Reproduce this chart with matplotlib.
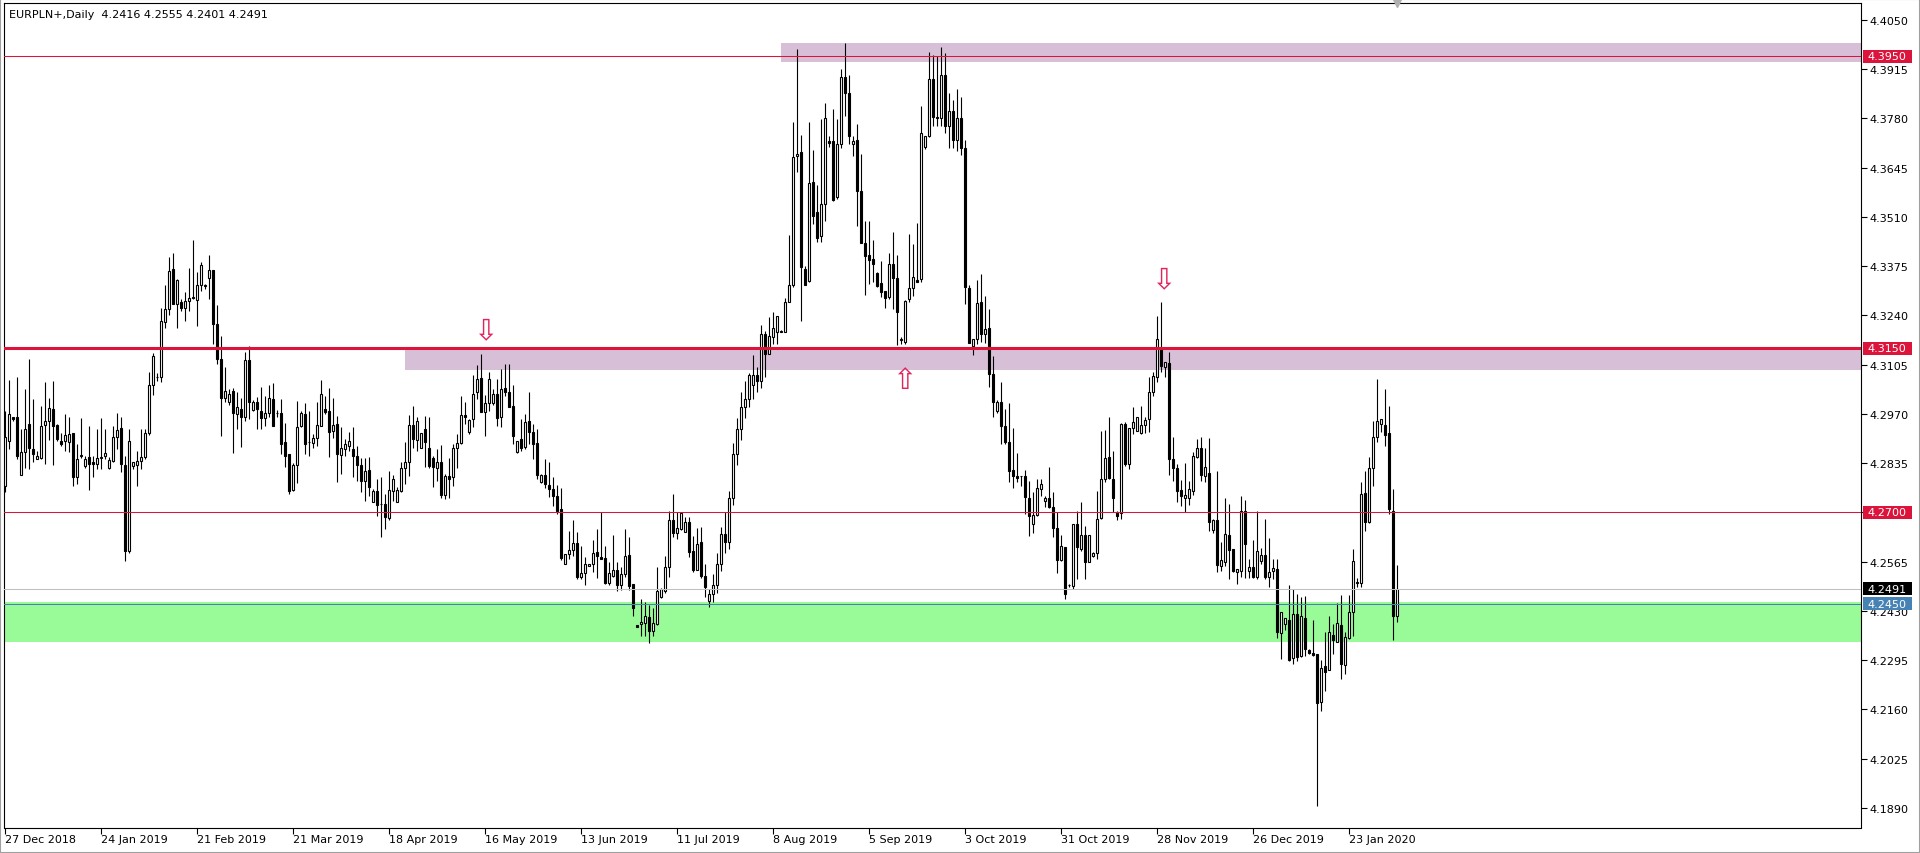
import matplotlib
matplotlib.use("Agg")
import matplotlib.pyplot as plt
from matplotlib.patches import Rectangle

plt.rcParams['font.family'] = ['DejaVu Sans']

# EURPLN+ daily bars (one entry per bar)
OPEN = [
    4.2773, 4.2897, 4.2961, 4.2961, 4.2803, 4.2865, 4.2942, 4.2874, 4.2846, 4.2848,
    4.2939, 4.2951, 4.2983, 4.2940, 4.2896, 4.2896, 4.2894, 4.2919, 4.2796, 4.2855,
    4.2828, 4.2853, 4.2837, 4.2833, 4.2848, 4.2855, 4.2823, 4.2842, 4.2906, 4.2931,
    4.2830, 4.2595, 4.2828, 4.2830, 4.2842, 4.2853, 4.2919, 4.3049, 4.3070, 4.3070,
    4.3221, 4.3258, 4.3367, 4.3271, 4.3278, 4.3260, 4.3280, 4.3288, 4.3283, 4.3323,
    4.3323, 4.3344, 4.3365, 4.3217, 4.3120, 4.3015, 4.3004, 4.3032, 4.2969, 4.2983,
    4.2961, 4.3118, 4.2981, 4.3004, 4.2979, 4.2958, 4.2974, 4.3011, 4.2972, 4.2974,
    4.2894, 4.2860, 4.2762, 4.2831, 4.2936, 4.2970, 4.2892, 4.2890, 4.2903, 4.2938,
    4.2983, 4.2977, 4.2924, 4.2942, 4.2858, 4.2875, 4.2881, 4.2874, 4.2854, 4.2830,
    4.2785, 4.2816, 4.2729, 4.2758, 4.2723, 4.2723, 4.2685, 4.2760, 4.2729, 4.2760,
    4.2821, 4.2837, 4.2940, 4.2899, 4.2876, 4.2930, 4.2876, 4.2848, 4.2821, 4.2837,
    4.2748, 4.2799, 4.2796, 4.2876, 4.2890, 4.2967, 4.2920, 4.2956, 4.3029, 4.3068,
    4.2976, 4.3000, 4.3000, 4.3025, 4.2961, 4.3040, 4.3029, 4.2991, 4.2867, 4.2901,
    4.2879, 4.2951, 4.2920, 4.2890, 4.2783, 4.2803, 4.2775, 4.2764, 4.2746, 4.2710,
    4.2558, 4.2586, 4.2598, 4.2616, 4.2524, 4.2533, 4.2552, 4.2559, 4.2591, 4.2577,
    4.2574, 4.2507, 4.2525, 4.2543, 4.2502, 4.2531, 4.2583, 4.2504, 4.2392, 4.2394,
    4.2398, 4.2413, 4.2376, 4.2394, 4.2467, 4.2486, 4.2550, 4.2678, 4.2644, 4.2655,
    4.2647, 4.2675, 4.2595, 4.2543, 4.2618, 4.2525, 4.2458, 4.2477, 4.2500, 4.2560,
    4.2640, 4.2620, 4.2740, 4.2860, 4.2930, 4.2990, 4.3010, 4.3050, 4.3077, 4.3060,
    4.3189, 4.3134, 4.3180, 4.3194, 4.3196, 4.3194, 4.3276, 4.3324, 4.3676, 4.3687,
    4.3367, 4.3335, 4.3605, 4.3525, 4.3457, 4.3546, 4.3717, 4.3717, 4.3564, 4.3710,
    4.3895, 4.3850, 4.3710, 4.3721, 4.3582, 4.3439, 4.3406, 4.3395, 4.3356, 4.3329,
    4.3308, 4.3290, 4.3381, 4.3342, 4.3174, 4.3168, 4.3285, 4.3315, 4.3336, 4.3340,
    4.3701, 4.3731, 4.3888, 4.3785, 4.3782, 4.3900, 4.3760, 4.3800, 4.3720, 4.3780,
    4.3700, 4.3314, 4.3157, 4.3175, 4.3278, 4.3189, 4.3205, 4.3079, 4.2979, 4.3004,
    4.2936, 4.2894, 4.2817, 4.2801, 4.2799, 4.2799, 4.2741, 4.2668, 4.2693, 4.2764,
    4.2732, 4.2741, 4.2714, 4.2657, 4.2571, 4.2604, 4.2501, 4.2499, 4.2668, 4.2601,
    4.2638, 4.2565, 4.2580, 4.2589, 4.2684, 4.2792, 4.2851, 4.2792, 4.2702, 4.2698,
    4.2943, 4.2833, 4.2931, 4.2924, 4.2918, 4.2940, 4.2956, 4.3031, 4.3071, 4.3148,
    4.3098, 4.3111, 4.2847, 4.2822, 4.2761, 4.2741, 4.2739, 4.2760, 4.2851, 4.2876,
    4.2801, 4.2808, 4.2653, 4.2679, 4.2554, 4.2565, 4.2638, 4.2600, 4.2538, 4.2540,
    4.2703, 4.2540, 4.2550, 4.2522, 4.2568, 4.2583, 4.2522, 4.2539, 4.2546, 4.2369,
    4.2394, 4.2406, 4.2300, 4.2421, 4.2306, 4.2412, 4.2324, 4.2315, 4.2312, 4.2180,
    4.2278, 4.2267, 4.2364, 4.2346, 4.2391, 4.2282, 4.2355, 4.2426, 4.2508, 4.2508,
    4.2753, 4.2673, 4.2821, 4.2906, 4.2942, 4.2940, 4.2918, 4.2705, 4.2416,
]
HIGH = [
    4.2979, 4.3063, 4.2961, 4.3070, 4.2930, 4.3038, 4.3121, 4.3011, 4.2869, 4.2993,
    4.3057, 4.3015, 4.3061, 4.2942, 4.2919, 4.2970, 4.2961, 4.2919, 4.2887, 4.2958,
    4.2855, 4.2938, 4.2855, 4.2929, 4.2958, 4.2930, 4.2851, 4.2938, 4.2972, 4.2961,
    4.2855, 4.2930, 4.2837, 4.2869, 4.2929, 4.2929, 4.3084, 4.3137, 4.3082, 4.3260,
    4.3323, 4.3399, 4.3410, 4.3341, 4.3285, 4.3303, 4.3370, 4.3447, 4.3358, 4.3386,
    4.3326, 4.3406, 4.3365, 4.3269, 4.3184, 4.3098, 4.3038, 4.3041, 4.3029, 4.3015,
    4.3139, 4.3157, 4.3007, 4.3016, 4.3043, 4.3020, 4.3049, 4.3055, 4.2981, 4.3011,
    4.2945, 4.2860, 4.2835, 4.3006, 4.2979, 4.2999, 4.2979, 4.2915, 4.3004, 4.3064,
    4.3018, 4.3040, 4.3013, 4.2965, 4.2933, 4.2901, 4.2920, 4.2933, 4.2881, 4.2848,
    4.2848, 4.2851, 4.2764, 4.2793, 4.2796, 4.2750, 4.2814, 4.2803, 4.2769, 4.2837,
    4.2892, 4.2967, 4.2993, 4.2961, 4.2917, 4.2965, 4.2961, 4.2856, 4.2874, 4.2885,
    4.2805, 4.2848, 4.2888, 4.2915, 4.3018, 4.3004, 4.2956, 4.3077, 4.3104, 4.3134,
    4.3022, 4.3086, 4.3039, 4.3066, 4.3093, 4.3107, 4.3107, 4.3049, 4.2897, 4.2956,
    4.2970, 4.3029, 4.2943, 4.2929, 4.2805, 4.2847, 4.2838, 4.2796, 4.2774, 4.2767,
    4.2586, 4.2650, 4.2680, 4.2647, 4.2609, 4.2577, 4.2559, 4.2625, 4.2655, 4.2700,
    4.2609, 4.2563, 4.2638, 4.2563, 4.2550, 4.2655, 4.2632, 4.2504, 4.2392, 4.2463,
    4.2455, 4.2446, 4.2437, 4.2550, 4.2492, 4.2580, 4.2705, 4.2751, 4.2702, 4.2702,
    4.2687, 4.2687, 4.2636, 4.2657, 4.2659, 4.2559, 4.2490, 4.2530, 4.2590, 4.2660,
    4.2700, 4.2760, 4.2890, 4.2960, 4.3030, 4.3060, 4.3082, 4.3132, 4.3100, 4.3214,
    4.3198, 4.3235, 4.3249, 4.3238, 4.3199, 4.3287, 4.3461, 4.3771, 4.3970, 4.3735,
    4.3376, 4.3771, 4.3694, 4.3598, 4.3779, 4.3823, 4.3731, 4.3806, 4.3779, 4.3916,
    4.3987, 4.3899, 4.3733, 4.3765, 4.3684, 4.3500, 4.3500, 4.3448, 4.3360, 4.3388,
    4.3308, 4.3411, 4.3470, 4.3406, 4.3180, 4.3283, 4.3463, 4.3436, 4.3494, 4.3813,
    4.3731, 4.3961, 4.3954, 4.3952, 4.3975, 4.3960, 4.3850, 4.3830, 4.3860, 4.3840,
    4.3720, 4.3323, 4.3175, 4.3337, 4.3354, 4.3294, 4.3258, 4.3128, 4.3007, 4.3059,
    4.2983, 4.2999, 4.2931, 4.2863, 4.2801, 4.2817, 4.2787, 4.2755, 4.2792, 4.2793,
    4.2746, 4.2826, 4.2757, 4.2700, 4.2638, 4.2604, 4.2504, 4.2668, 4.2705, 4.2730,
    4.2664, 4.2638, 4.2592, 4.2760, 4.2924, 4.2927, 4.2961, 4.2869, 4.2705, 4.2945,
    4.2949, 4.2931, 4.2988, 4.2961, 4.2993, 4.2961, 4.3070, 4.3086, 4.3239, 4.3278,
    4.3113, 4.3139, 4.2906, 4.2833, 4.2789, 4.2835, 4.2787, 4.2865, 4.2901, 4.2906,
    4.2877, 4.2903, 4.2682, 4.2813, 4.2620, 4.2741, 4.2723, 4.2600, 4.2545, 4.2746,
    4.2735, 4.2572, 4.2625, 4.2705, 4.2602, 4.2682, 4.2629, 4.2572, 4.2572, 4.2426,
    4.2410, 4.2501, 4.2490, 4.2476, 4.2467, 4.2472, 4.2327, 4.2406, 4.2312, 4.2296,
    4.2371, 4.2417, 4.2394, 4.2452, 4.2474, 4.2373, 4.2474, 4.2600, 4.2519, 4.2783,
    4.2815, 4.2851, 4.2952, 4.3066, 4.2956, 4.3038, 4.2993, 4.2764, 4.2555,
]
LOW = [
    4.2755, 4.2874, 4.2951, 4.2846, 4.2803, 4.2823, 4.2819, 4.2837, 4.2846, 4.2846,
    4.2833, 4.2898, 4.2830, 4.2897, 4.2883, 4.2869, 4.2865, 4.2773, 4.2778, 4.2850,
    4.2821, 4.2762, 4.2796, 4.2819, 4.2819, 4.2846, 4.2819, 4.2837, 4.2874, 4.2810,
    4.2568, 4.2590, 4.2819, 4.2773, 4.2819, 4.2846, 4.2912, 4.3022, 4.3061, 4.3058,
    4.3207, 4.3241, 4.3271, 4.3206, 4.3253, 4.3226, 4.3251, 4.3285, 4.3212, 4.3308,
    4.3313, 4.3285, 4.3162, 4.3107, 4.2910, 4.3002, 4.2994, 4.2862, 4.2930, 4.2880,
    4.2951, 4.2956, 4.2978, 4.2929, 4.2929, 4.2938, 4.2961, 4.2938, 4.2961, 4.2860,
    4.2826, 4.2750, 4.2760, 4.2781, 4.2933, 4.2860, 4.2854, 4.2876, 4.2883, 4.2938,
    4.2970, 4.2851, 4.2903, 4.2784, 4.2805, 4.2856, 4.2869, 4.2796, 4.2787, 4.2757,
    4.2732, 4.2746, 4.2728, 4.2691, 4.2632, 4.2655, 4.2680, 4.2732, 4.2728, 4.2755,
    4.2778, 4.2801, 4.2878, 4.2869, 4.2876, 4.2824, 4.2821, 4.2769, 4.2787, 4.2741,
    4.2737, 4.2739, 4.2773, 4.2821, 4.2888, 4.2942, 4.2915, 4.2933, 4.3011, 4.2976,
    4.2909, 4.2979, 4.2995, 4.2938, 4.2933, 4.3020, 4.2988, 4.2888, 4.2863, 4.2869,
    4.2874, 4.2888, 4.2847, 4.2792, 4.2781, 4.2766, 4.2742, 4.2719, 4.2696, 4.2571,
    4.2558, 4.2573, 4.2582, 4.2518, 4.2518, 4.2501, 4.2552, 4.2536, 4.2520, 4.2573,
    4.2504, 4.2501, 4.2522, 4.2486, 4.2488, 4.2522, 4.2488, 4.2415, 4.2385, 4.2362,
    4.2362, 4.2342, 4.2362, 4.2392, 4.2465, 4.2479, 4.2522, 4.2632, 4.2627, 4.2653,
    4.2647, 4.2577, 4.2538, 4.2541, 4.2520, 4.2467, 4.2440, 4.2455, 4.2480, 4.2540,
    4.2590, 4.2600, 4.2720, 4.2830, 4.2900, 4.2960, 4.2990, 4.3010, 4.3030, 4.3040,
    4.3070, 4.3134, 4.3162, 4.3162, 4.3194, 4.3194, 4.3276, 4.3317, 4.3634, 4.3226,
    4.3324, 4.3333, 4.3491, 4.3441, 4.3442, 4.3500, 4.3701, 4.3555, 4.3559, 4.3698,
    4.3786, 4.3710, 4.3676, 4.3486, 4.3439, 4.3296, 4.3326, 4.3331, 4.3317, 4.3290,
    4.3260, 4.3285, 4.3258, 4.3159, 4.3162, 4.3162, 4.3278, 4.3293, 4.3331, 4.3331,
    4.3696, 4.3728, 4.3760, 4.3760, 4.3760, 4.3740, 4.3700, 4.3700, 4.3690, 4.3680,
    4.3271, 4.3164, 4.3131, 4.3162, 4.3166, 4.3164, 4.3043, 4.2963, 4.2974, 4.2888,
    4.2888, 4.2783, 4.2766, 4.2783, 4.2772, 4.2696, 4.2635, 4.2644, 4.2691, 4.2746,
    4.2714, 4.2711, 4.2632, 4.2534, 4.2568, 4.2463, 4.2495, 4.2490, 4.2518, 4.2595,
    4.2518, 4.2565, 4.2577, 4.2572, 4.2682, 4.2783, 4.2792, 4.2700, 4.2678, 4.2682,
    4.2828, 4.2819, 4.2915, 4.2922, 4.2915, 4.2918, 4.2920, 4.3020, 4.3057, 4.3084,
    4.3070, 4.2803, 4.2787, 4.2730, 4.2719, 4.2700, 4.2720, 4.2748, 4.2848, 4.2787,
    4.2784, 4.2650, 4.2644, 4.2536, 4.2540, 4.2554, 4.2518, 4.2538, 4.2504, 4.2522,
    4.2519, 4.2519, 4.2519, 4.2518, 4.2559, 4.2518, 4.2497, 4.2518, 4.2355, 4.2298,
    4.2379, 4.2294, 4.2284, 4.2294, 4.2303, 4.2307, 4.2312, 4.2306, 4.1896, 4.2157,
    4.2211, 4.2267, 4.2312, 4.2346, 4.2243, 4.2257, 4.2353, 4.2360, 4.2497, 4.2497,
    4.2650, 4.2671, 4.2772, 4.2892, 4.2920, 4.2881, 4.2696, 4.2351, 4.2401,
]
CLOSE = [
    4.2906, 4.2970, 4.2955, 4.2855, 4.2865, 4.2930, 4.2878, 4.2860, 4.2855, 4.2938,
    4.2950, 4.2986, 4.2938, 4.2901, 4.2887, 4.2912, 4.2915, 4.2796, 4.2846, 4.2857,
    4.2846, 4.2833, 4.2833, 4.2848, 4.2851, 4.2864, 4.2843, 4.2906, 4.2926, 4.2833,
    4.2595, 4.2895, 4.2837, 4.2840, 4.2851, 4.2919, 4.3049, 4.3128, 4.3071, 4.3224,
    4.3258, 4.3363, 4.3271, 4.3337, 4.3260, 4.3280, 4.3288, 4.3290, 4.3323, 4.3378,
    4.3320, 4.3365, 4.3217, 4.3122, 4.3015, 4.3032, 4.3024, 4.2972, 4.2989, 4.2961,
    4.3118, 4.3004, 4.3002, 4.2983, 4.2958, 4.2974, 4.3013, 4.2938, 4.2973, 4.2888,
    4.2856, 4.2760, 4.2830, 4.2933, 4.2972, 4.2888, 4.2893, 4.2903, 4.2940, 4.3025,
    4.2976, 4.2920, 4.2940, 4.2860, 4.2876, 4.2888, 4.2895, 4.2854, 4.2831, 4.2787,
    4.2814, 4.2769, 4.2759, 4.2721, 4.2724, 4.2687, 4.2762, 4.2793, 4.2761, 4.2821,
    4.2837, 4.2940, 4.2901, 4.2950, 4.2917, 4.2894, 4.2828, 4.2826, 4.2837, 4.2748,
    4.2801, 4.2792, 4.2876, 4.2890, 4.2967, 4.2961, 4.2954, 4.3026, 4.3067, 4.2976,
    4.3000, 4.3066, 4.3025, 4.2958, 4.3039, 4.3029, 4.2988, 4.2909, 4.2897, 4.2876,
    4.2947, 4.2920, 4.2888, 4.2803, 4.2803, 4.2778, 4.2763, 4.2746, 4.2705, 4.2574,
    4.2586, 4.2598, 4.2616, 4.2522, 4.2535, 4.2559, 4.2559, 4.2589, 4.2580, 4.2573,
    4.2507, 4.2534, 4.2543, 4.2502, 4.2531, 4.2580, 4.2499, 4.2437, 4.2385, 4.2401,
    4.2415, 4.2376, 4.2397, 4.2486, 4.2490, 4.2550, 4.2678, 4.2644, 4.2657, 4.2699,
    4.2673, 4.2591, 4.2541, 4.2614, 4.2525, 4.2495, 4.2477, 4.2500, 4.2560, 4.2640,
    4.2620, 4.2740, 4.2860, 4.2930, 4.2990, 4.3010, 4.3077, 4.3077, 4.3060, 4.3189,
    4.3134, 4.3183, 4.3205, 4.3238, 4.3196, 4.3276, 4.3324, 4.3674, 4.3684, 4.3372,
    4.3324, 4.3602, 4.3514, 4.3453, 4.3546, 4.3780, 4.3712, 4.3557, 4.3710, 4.3893,
    4.3850, 4.3733, 4.3719, 4.3582, 4.3439, 4.3404, 4.3393, 4.3381, 4.3322, 4.3304,
    4.3287, 4.3381, 4.3342, 4.3249, 4.3176, 4.3281, 4.3315, 4.3345, 4.3331, 4.3739,
    4.3731, 4.3888, 4.3783, 4.3782, 4.3900, 4.3760, 4.3800, 4.3720, 4.3780, 4.3700,
    4.3317, 4.3164, 4.3175, 4.3274, 4.3189, 4.3203, 4.3079, 4.3004, 4.3002, 4.2936,
    4.2892, 4.2815, 4.2801, 4.2794, 4.2799, 4.2742, 4.2690, 4.2693, 4.2766, 4.2778,
    4.2741, 4.2714, 4.2657, 4.2571, 4.2607, 4.2477, 4.2501, 4.2668, 4.2604, 4.2638,
    4.2565, 4.2638, 4.2589, 4.2682, 4.2792, 4.2849, 4.2794, 4.2739, 4.2689, 4.2943,
    4.2833, 4.2931, 4.2949, 4.2961, 4.2940, 4.2954, 4.3031, 4.3075, 4.3175, 4.3102,
    4.3113, 4.2847, 4.2822, 4.2760, 4.2746, 4.2748, 4.2764, 4.2854, 4.2876, 4.2803,
    4.2824, 4.2673, 4.2680, 4.2556, 4.2570, 4.2641, 4.2598, 4.2540, 4.2545, 4.2703,
    4.2614, 4.2550, 4.2522, 4.2595, 4.2583, 4.2522, 4.2538, 4.2549, 4.2373, 4.2426,
    4.2410, 4.2296, 4.2421, 4.2303, 4.2415, 4.2327, 4.2315, 4.2309, 4.2178, 4.2275,
    4.2264, 4.2371, 4.2351, 4.2397, 4.2284, 4.2358, 4.2426, 4.2566, 4.2510, 4.2751,
    4.2673, 4.2822, 4.2906, 4.2952, 4.2956, 4.2912, 4.2709, 4.2415, 4.2491,
]

DATE_LABELS = ["27 Dec 2018", "24 Jan 2019", "21 Feb 2019", "21 Mar 2019", "18 Apr 2019",
               "16 May 2019", "13 Jun 2019", "11 Jul 2019", "8 Aug 2019", "5 Sep 2019",
               "3 Oct 2019", "31 Oct 2019", "28 Nov 2019", "26 Dec 2019", "23 Jan 2020"]
DATE_BARS = [0, 24, 48, 72, 96, 120, 144, 168, 192, 216, 240, 264, 288, 312, 336]

YTICKS = [4.4050, 4.3915, 4.3780, 4.3645, 4.3510, 4.3375, 4.3240, 4.3105, 4.2970,
          4.2835, 4.2700, 4.2565, 4.2430, 4.2295, 4.2160, 4.2025, 4.1890]

RED_LEVELS = [4.3950, 4.3150, 4.2700]
RED_WIDTHS = [0.75, 2.2, 0.75]
BID = 4.2491
BLUE_LEVEL = 4.2450

# zones: start bar, low, high
PURPLE_ZONES = [(193.9, 4.3936, 4.3987), (99.9, 4.3091, 4.3150)]
GREEN_ZONE = (4.2346, 4.2455)

ARROW_BARS = [120, 289.5, 224.7]
ARROW_PRICES = [4.3200, 4.3340, 4.3063]
ARROW_GLYPHS = ["\u21e9", "\u21e9", "\u21e7"]

CRIMSON = '#DC143C'
n = len(CLOSE)
assert len(OPEN) == len(HIGH) == len(LOW) == n
xs = list(range(n))
XMIN, XMAX = -0.33, 463.9
YMIN, YMAX = 4.18364, 4.40966

fig = plt.figure(figsize=(19.2, 8.54), dpi=100)
ax = fig.add_axes([4 / 1920, 25.5 / 854, 1857 / 1920, 824.5 / 854])
ax.set_xlim(XMIN, XMAX)
ax.set_ylim(YMIN, YMAX)

# zones behind everything
for start, lo, hi in PURPLE_ZONES:
    ax.add_patch(Rectangle((start, lo), XMAX - start, hi - lo, fc='#D8BFD8', ec='none', zorder=1))
ax.add_patch(Rectangle((XMIN, GREEN_ZONE[0]), XMAX - XMIN, GREEN_ZONE[1] - GREEN_ZONE[0],
                       fc='#98FB98', ec='none', zorder=1))

# candles
ax.vlines(xs, LOW, HIGH, color='black', lw=0.8, zorder=3)
bottoms = [min(o, c) for o, c in zip(OPEN, CLOSE)]
heights = [max(abs(c - o), 0.00004) for o, c in zip(OPEN, CLOSE)]
faces = ['white' if c >= o else 'black' for o, c in zip(OPEN, CLOSE)]
ax.bar(xs, heights, bottom=bottoms, width=0.55, color=faces, edgecolor='black', lw=0.8, zorder=4)

# horizontal levels
for lvl, w in zip(RED_LEVELS, RED_WIDTHS):
    ax.axhline(lvl, color=CRIMSON, lw=w, zorder=5)
ax.axhline(BID, color='#C0C0C0', lw=0.75, zorder=5)
ax.axhline(BLUE_LEVEL, color='#4682B4', lw=0.75, zorder=5)

# arrows
for bx, py, g in zip(ARROW_BARS, ARROW_PRICES, ARROW_GLYPHS):
    ax.text(bx, py, g, color='#E0245E', fontsize=21, ha='center', va='center', zorder=6)

# axes look
for s in ax.spines.values():
    s.set_color('black')
    s.set_linewidth(0.8)
ax.yaxis.tick_right()
ax.set_yticks(YTICKS)
ax.set_yticklabels([f"{v:.4f}" for v in YTICKS])
ax.tick_params(axis='y', length=4, width=0.8, pad=2, labelsize=8, colors='black')
ax.set_xticks(DATE_BARS)
ax.set_xticklabels(DATE_LABELS, ha='left')
ax.tick_params(axis='x', length=4, width=0.8, pad=1, labelsize=8, colors='black')

# price boxes on the right scale
ytr = ax.get_yaxis_transform()
boxes = [(4.3950, CRIMSON, 'white'), (4.3150, CRIMSON, 'white'), (4.2700, CRIMSON, 'white'),
         (BID, 'black', 'white'), (BLUE_LEVEL, '#4682B4', 'white')]
for price, bg, fg in boxes:
    ax.add_patch(Rectangle((1.0009, price - 0.00173), 0.0264, 0.00346, transform=ytr,
                           fc=bg, ec='none', clip_on=False, zorder=10))
    ax.text(1.0032, price, f"{price:.4f}", transform=ytr, color=fg, fontsize=8,
            va='center', ha='left', zorder=11, clip_on=False)

# header and shift marker
ax.text(0.0027, 0.9867, "EURPLN+,Daily  4.2416 4.2555 4.2401 4.2491",
        transform=ax.transAxes, fontsize=8, va='center', ha='left', zorder=12)
ax.plot([n - 1], [YMAX], marker='v', ms=6, color='#B0B0B0', clip_on=False, zorder=12)

fig.add_artist(Rectangle((0, 0), 1, 1, transform=fig.transFigure, fill=False,
                         ec='#A0A0A0', lw=1.5))

fig.savefig("out.png", dpi=100, facecolor='white')
